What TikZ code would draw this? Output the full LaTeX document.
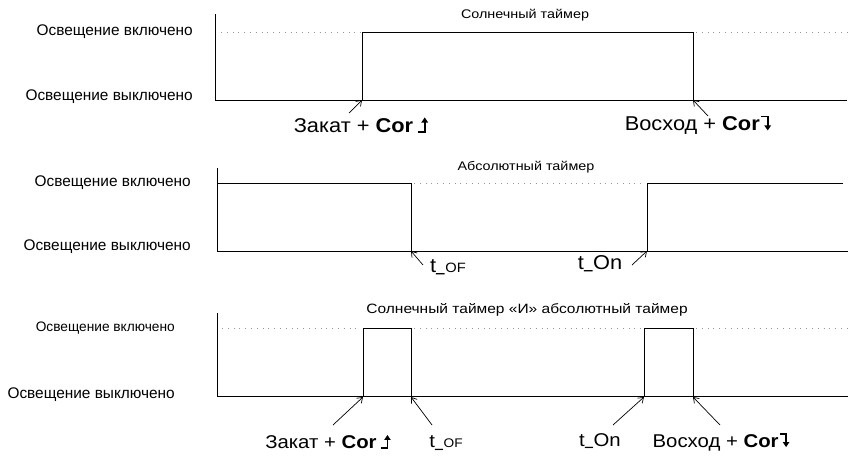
\documentclass[tikz,border=0pt]{standalone}
\usepackage{graphicx}
\usepackage{fontspec}
\setmainfont{Liberation Sans}
\usetikzlibrary{arrows.meta}

% rising / falling edge glyphs after "Cor"
\newcommand{\riseedge}{\tikz[baseline=0pt,x=1em,y=1em]{%
  \draw[line width=0.09em] (-0.02,0.03)--(0.3,0.03)--(0.3,0.5);
  \fill (0.14,0.48)--(0.46,0.48)--(0.3,0.74)--cycle;}}
\newcommand{\falledge}{\tikz[baseline=0pt,x=1em,y=1em]{%
  \draw[line width=0.09em] (-0.02,0.70)--(0.3,0.70)--(0.3,0.24);
  \fill (0.14,0.26)--(0.46,0.26)--(0.3,0.0)--cycle;}}
% t_xx time labels with a heavy underscore
\newcommand{\tsub}[1]{t\kern0.01em{\bfseries\raisebox{0.1em}{\scalebox{0.7}[1.8]{\_}}}\kern0.03em#1}
% horizontally widened text
\newcommand{\wide}[2]{\scalebox{#1}[1]{#2}}

\begin{document}
\begin{tikzpicture}[x=1pt,y=-1pt,
  wave/.style={line width=1pt, line join=miter},
  lvl/.style={line width=0.8pt, gray!80, dash pattern=on 0.8pt off 5pt},
  lbl/.style={anchor=east, inner sep=0pt, font=\fontsize{15.4}{17}\selectfont},
  lbls/.style={anchor=east, inner sep=0pt, font=\fontsize{13.7}{15}\selectfont},
  ttl/.style={inner sep=0pt, font=\fontsize{12.5}{14}\selectfont},
  ttlb/.style={inner sep=0pt, font=\fontsize{13.5}{15}\selectfont},
  evt/.style={inner sep=0pt, font=\fontsize{20}{23}\selectfont},
  evts/.style={inner sep=0pt, font=\fontsize{18.5}{21}\selectfont},
  ptr/.style={-{Straight Barb[length=5pt,width=7pt]}, line width=0.7pt}]
\useasboundingbox (0,0) rectangle (851,455);

% ---------- solar timer ----------
\node[ttl] (ttl1) at (525,15) {\wide{1.15}{Солнечный таймер}};
\node[lbl] (on1) at (193,32) {Освещение включено};
\node[lbl] (off1) at (193,97) {Освещение выключено};
\draw[wave] (215,14) -- (215,100) -- (847,100);
\draw[lvl] (221,32) -- (362,32);
\draw[wave] (362,100) -- (362,32) -- (693,32) -- (693,100);
\draw[lvl] (696,32) -- (847,32);
\coordinate (r1) at (362,100);
\coordinate (f1) at (693,100);
\node[evt] (ss1) at (361,125) {\wide{1.09}{Закат + \textbf{Cor}\,\riseedge}};
\node[evt] (sr1) at (698,125) {\wide{1.09}{Восход + \textbf{Cor}\falledge}};
\coordinate (ss1t) at (349,113);
\coordinate (sr1t) at (708,116);
\draw[ptr] (ss1t) -- (r1);
\draw[ptr] (sr1t) -- (f1);

% ---------- absolute timer ----------
\node[ttl] (ttl2) at (526,167) {\wide{1.15}{Абсолютный таймер}};
\node[lbl] (on2) at (191,183) {Освещение включено};
\node[lbl] (off2) at (191,247) {Освещение выключено};
\draw[wave] (217,168) -- (217,251) -- (848,251);
\draw[wave] (217,183) -- (411,183) -- (411,251);
\draw[lvl] (414,183) -- (644,183);
\draw[wave] (647,251) -- (647,183) -- (843,183);
\coordinate (f2) at (411,251);
\coordinate (r2) at (647,251);
\node[evt] (toff2) at (448,267) {\wide{1.09}{\tsub{\fontsize{13.5}{15}\selectfont OF}}};
\node[evt] (ton2) at (600,264) {\wide{1.09}{\tsub{On}}};
\coordinate (toff2t) at (423,265);
\coordinate (ton2t) at (632,265);
\draw[ptr] (toff2t) -- (f2);
\draw[ptr] (ton2t) -- (r2);

% ---------- solar AND absolute ----------
\node[ttlb] (ttl3) at (527,310) {\wide{1.15}{Солнечный таймер «И» абсолютный таймер}};
\node[lbls] (on3) at (175,328) {Освещение включено};
\node[lbl] (off3) at (175,395) {Освещение выключено};
\draw[wave] (217,313) -- (217,396) -- (848,396);
\draw[lvl] (222,328) -- (360,328);
\draw[wave] (363,396) -- (363,328) -- (411,328) -- (411,396);
\draw[lvl] (414,328) -- (641,328);
\draw[wave] (644,396) -- (644,328) -- (693,328) -- (693,396);
\draw[lvl] (696,328) -- (848,328);
\coordinate (r3a) at (363,397);
\coordinate (f3a) at (411,397);
\coordinate (r3b) at (644,397);
\coordinate (f3b) at (693,397);
\node[evts] (ss3) at (328,442) {\wide{1.1}{Закат + \textbf{Cor}\,\riseedge}};
\node[evts] (toff3) at (446,443) {\wide{1.1}{\tsub{\fontsize{12.5}{15}\selectfont OF}}};
\node[evts] (ton3) at (600,441) {\wide{1.1}{\tsub{On}}};
\node[evts] (sr3) at (721,442) {\wide{1.1}{Восход + \textbf{Cor}\falledge}};
\coordinate (ss3t) at (333,425);
\coordinate (toff3t) at (432,425);
\coordinate (ton3t) at (613,425);
\coordinate (sr3t) at (720,425);
\draw[ptr] (ss3t) -- (r3a);
\draw[ptr] (toff3t) -- (f3a);
\draw[ptr] (ton3t) -- (r3b);
\draw[ptr] (sr3t) -- (f3b);
\end{tikzpicture}
\end{document}
